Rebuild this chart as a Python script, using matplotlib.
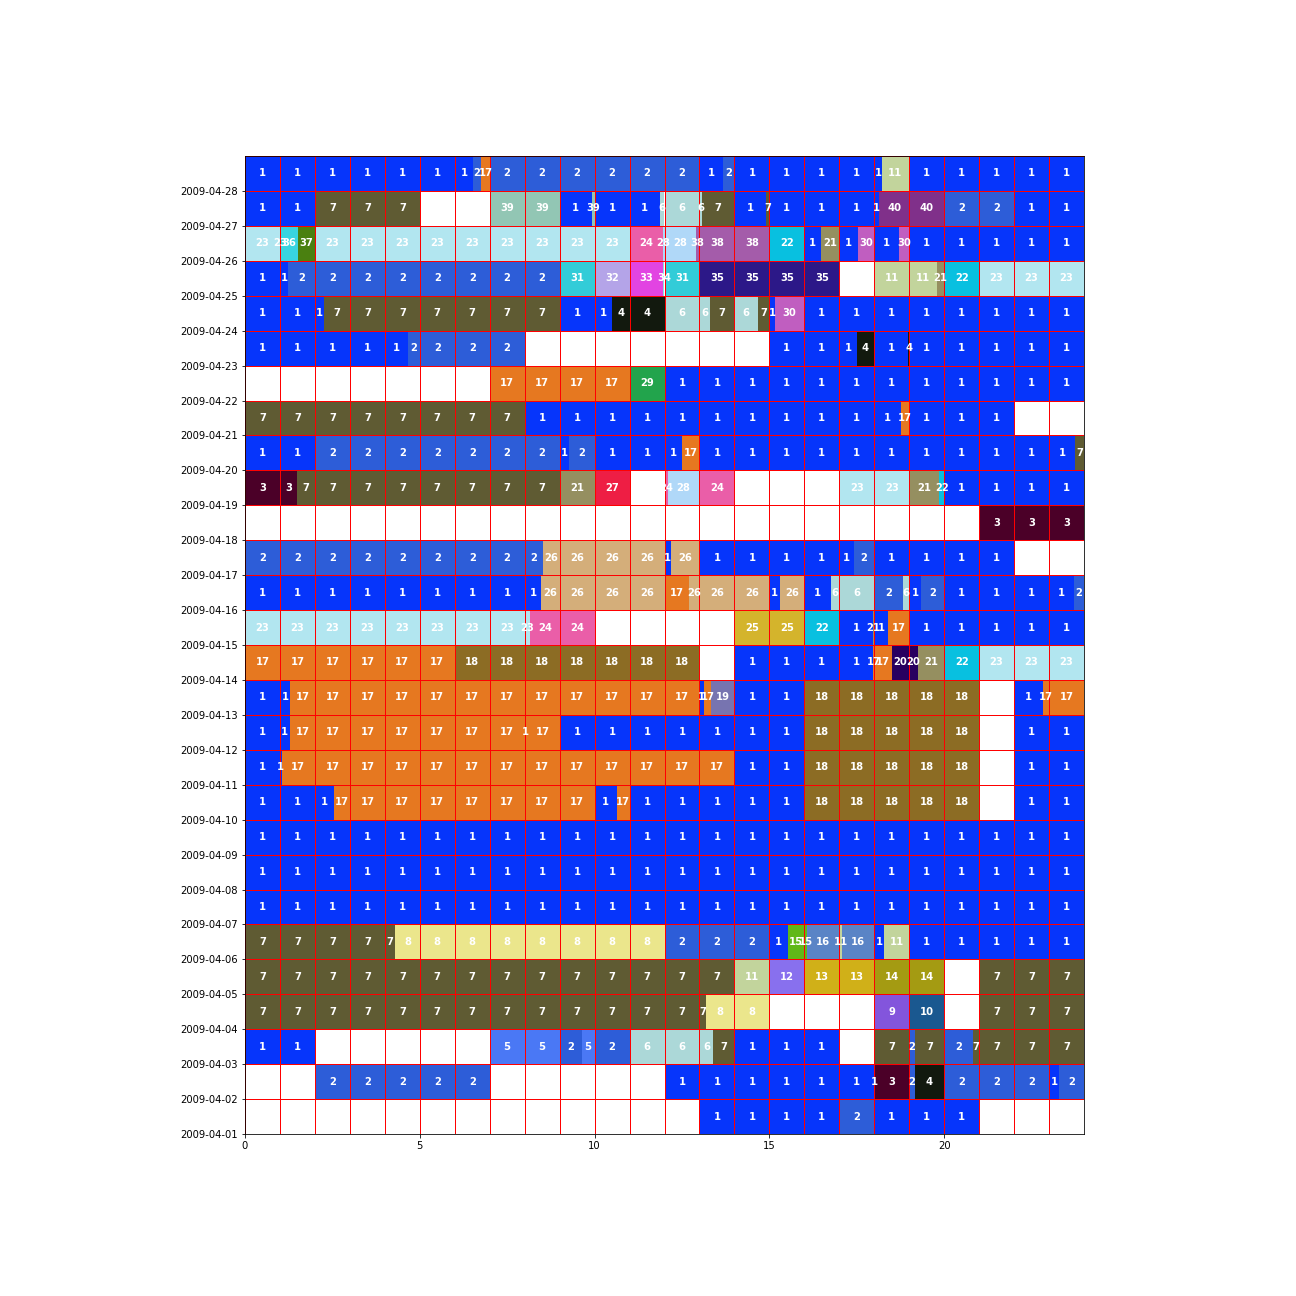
import math
import matplotlib
matplotlib.use("Agg")
import matplotlib.pyplot as plt

# activity segments per day: (start hour, end hour, activity id)
day01 = [(13, 17, 1), (17, 18, 2), (18, 21, 1)]
day02 = [(2, 7, 2), (12, 18.02, 1), (18.02, 19, 3), (19, 19.16, 2), (19.16, 20, 4),
         (20, 23, 2), (23, 23.28, 1), (23.28, 24, 2)]
day03 = [(0, 2, 1), (7, 9, 5), (9, 9.63, 2), (9.63, 10, 5), (10, 11, 2), (11, 13.4, 6),
         (13.4, 14, 7), (14, 17, 1), (18, 19, 7), (19, 19.16, 2), (19.16, 20, 7),
         (20, 20.83, 2), (20.83, 24, 7)]
day04 = [(0, 13.19, 7), (13.19, 15, 8), (18, 19, 9), (19, 20, 10), (21, 24, 7)]
day05 = [(0, 14, 7), (14, 15, 11), (15, 16, 12), (16, 18, 13), (18, 20, 14), (21, 24, 7)]
day06 = [(0, 4.29, 7), (4.29, 12, 8), (12, 15, 2), (15, 15.53, 1), (15.53, 16.07, 15),
         (16.07, 17, 16), (17, 17.07, 11), (17.07, 18, 16), (18, 18.28, 1), (18.28, 19, 11),
         (19, 24, 1)]
day07 = [(0, 24, 1)]
day08 = [(0, 24, 1)]
day09 = [(0, 24, 1)]
day10 = [(0, 2.55, 1), (2.55, 10, 17), (10, 10.64, 1), (10.64, 11, 17), (11, 16, 1),
         (16, 21, 18), (22, 24, 1)]
day11 = [(0, 1.05, 1), (1.05, 14, 17), (14, 16, 1), (16, 21, 18), (22, 24, 1)]
day12 = [(0, 1.28, 1), (1.28, 8, 17), (8, 8.03, 1), (8.03, 9, 17), (9, 16, 1),
         (16, 21, 18), (22, 24, 1)]
day13 = [(0, 1.29, 1), (1.29, 13, 17), (13, 13.12, 1), (13.12, 13.33, 17), (13.33, 14, 19),
         (14, 16, 1), (16, 21, 18), (22, 22.82, 1), (22.82, 24, 17)]
day14 = [(0, 6, 17), (6, 13, 18), (14, 17.96, 1), (17.96, 18.5, 17), (18.5, 19.25, 20),
         (19.25, 20, 21), (20, 21, 22), (21, 24, 23)]
day15 = [(0, 8.15, 23), (8.15, 10, 24), (14, 16, 25), (16, 17, 22), (17, 17.96, 1),
         (17.96, 18, 21), (18, 18.4, 1), (18.4, 19, 17), (19, 24, 1)]
day16 = [(0, 8.47, 1), (8.47, 12, 26), (12, 12.7, 17), (12.7, 15, 26), (15, 15.3, 1),
         (15.3, 16, 26), (16, 16.76, 1), (16.76, 18, 6), (18, 18.82, 2), (18.82, 19, 6),
         (19, 19.34, 1), (19.34, 20, 2), (20, 23.71, 1), (23.71, 24, 2)]
day17 = [(0, 8.52, 2), (8.52, 12, 26), (12, 12.19, 1), (12.19, 13, 26), (13, 17.42, 1),
         (17.42, 18, 2), (18, 22, 1)]
day18 = [(21, 24, 3)]
day19 = [(0, 1.48, 3), (1.48, 9, 7), (9, 10, 21), (10, 11, 27), (12, 12.09, 24),
         (12.09, 13, 28), (13, 14, 24), (17, 19, 23), (19, 19.86, 21), (19.86, 20, 22),
         (20, 24, 1)]
day20 = [(0, 2, 1), (2, 9, 2), (9, 9.27, 1), (9.27, 10, 2), (10, 12.5, 1), (12.5, 13, 17),
         (13, 23.74, 1), (23.74, 24, 7)]
day21 = [(0, 8, 7), (8, 18.76, 1), (18.76, 19, 17), (19, 22, 1)]
day22 = [(7, 11, 17), (11, 12, 29), (12, 24, 1)]
day23 = [(0, 4.67, 1), (4.67, 8, 2), (15, 17.5, 1), (17.5, 18, 4), (18, 18.97, 1),
         (18.97, 19, 4), (19, 24, 1)]
day24 = [(0, 2.26, 1), (2.26, 9, 7), (9, 10.5, 1), (10.5, 12, 4), (12, 13.3, 6),
         (13.3, 14, 7), (14, 14.68, 6), (14.68, 15, 7), (15, 15.16, 1), (15.16, 16, 30),
         (16, 24, 1)]
day25 = [(0, 1.23, 1), (1.23, 9, 2), (9, 10, 31), (10, 11, 32), (11, 11.97, 33),
         (11.97, 12, 34), (12, 13, 31), (13, 17, 35), (18, 19.79, 11), (19.79, 20, 21),
         (20, 21, 22), (21, 24, 23)]
day26 = [(0, 1.03, 23), (1.03, 1.52, 36), (1.52, 2, 37), (2, 11, 23), (11, 11.95, 24),
         (11.95, 12.9, 28), (12.9, 15, 38), (15, 16, 22), (16, 16.48, 1), (16.48, 17, 21),
         (17, 17.53, 1), (17.53, 18, 30), (18, 18.71, 1), (18.71, 19, 30), (19, 24, 1)]
day27 = [(0, 2, 1), (2, 5, 7), (7, 9, 39), (9, 9.92, 1), (9.92, 10, 39), (10, 11.87, 1),
         (11.87, 13.07, 6), (13.07, 14, 7), (14, 14.9, 1), (14.9, 15, 7), (15, 18.13, 1),
         (18.13, 20, 40), (20, 22, 2), (22, 24, 1)]
day28 = [(0, 6.53, 1), (6.53, 6.75, 2), (6.75, 7, 17), (7, 13, 2), (13, 13.66, 1),
         (13.66, 14, 2), (14, 18.21, 1), (18.21, 19, 11), (19, 24, 1)]

days = [day01, day02, day03, day04, day05, day06, day07, day08, day09, day10,
        day11, day12, day13, day14, day15, day16, day17, day18, day19, day20,
        day21, day22, day23, day24, day25, day26, day27, day28]

colors = {
    1: '#0635fb', 2: '#2d5dd8', 3: '#4b0028', 4: '#12190e', 5: '#4a78f5',
    6: '#acd8d8', 7: '#5f5b33', 8: '#ebe68c', 9: '#8355dc', 10: '#1a5890',
    11: '#c2d49c', 12: '#8870ee', 13: '#d0b018', 14: '#a49b12', 15: '#60b818',
    16: '#5a84c6', 17: '#e67820', 18: '#8c6c24', 19: '#7774b0', 20: '#280060',
    21: '#958f60', 22: '#08c0e0', 23: '#b2e6f0', 24: '#ea5ea8', 25: '#d4b42c',
    26: '#d4ae7a', 27: '#ee1e44', 28: '#b0d8f8', 29: '#22a44c', 30: '#c05ec0',
    31: '#32ccd8', 32: '#b4a4e8', 33: '#e244e2', 34: '#88e0e0', 35: '#2c1888',
    36: '#38d4e0', 37: '#4a8010', 38: '#a45caa', 39: '#92c6b4', 40: '#80308a',
}

fig = plt.figure(figsize=(18, 18), dpi=72)
ax = fig.add_axes([245/1296, 162/1296, 839/1296, 978/1296])

for i, segs in enumerate(days):
    y = i + 1
    for start, end, act in segs:
        # split each activity at hour boundaries, one label per hour piece
        for h in range(int(math.floor(start)), int(math.ceil(end))):
            s = max(start, h)
            e = min(end, h + 1)
            if e <= s:
                continue
            ax.barh(y, e - s, left=s, height=1, align='edge',
                    color=colors[act], linewidth=0, zorder=1)
            ax.text((s + e) / 2, y + 0.5, str(act), color='white',
                    fontsize=10, fontweight='bold', ha='center', va='center', zorder=4)

for h in range(25):
    ax.axvline(h, color='red', linewidth=1, zorder=2)
for d in range(1, 30):
    ax.axhline(d, color='red', linewidth=1, zorder=2)

ax.set_xlim(0, 24)
ax.set_ylim(1, 29)
ax.set_xticks([0, 5, 10, 15, 20])
ax.set_yticks(range(1, 29))
ax.set_yticklabels(['2009-04-%02d' % d for d in range(1, 29)])

fig.savefig('out.png', dpi=72)
